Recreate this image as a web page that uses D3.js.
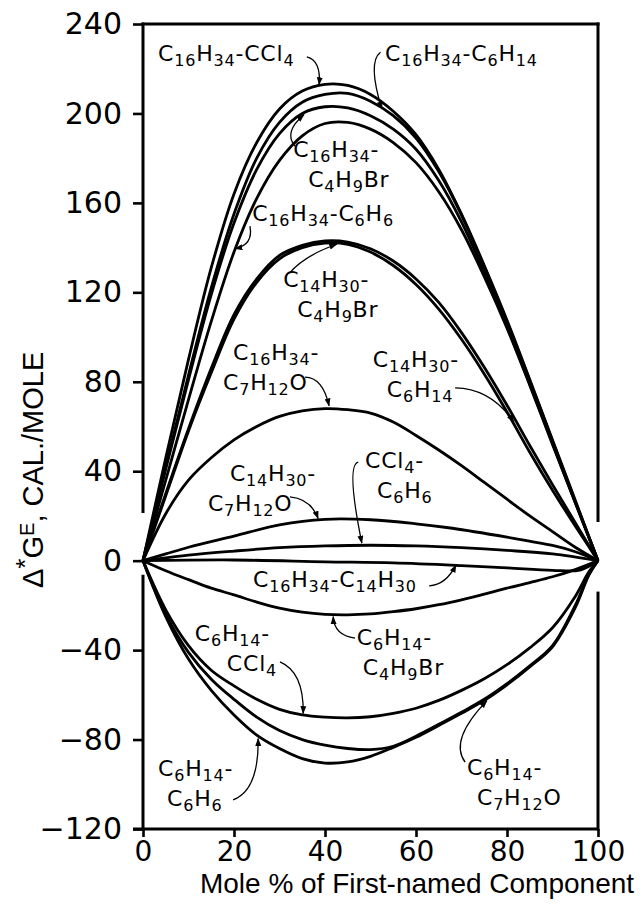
<!DOCTYPE html>
<html>
<head>
<meta charset="utf-8">
<script src="https://cdn.jsdelivr.net/npm/d3@7"></script>
<style>
  html, body { margin: 0; padding: 0; background: #fff; }
  svg { display: block; font-family: "DejaVu Sans", sans-serif; }
</style>
</head>
<body>
<div id="chart"></div>
<script>
// axis ticks
const xTicks = [0, 20, 40, 60, 80, 100];
const yTicks = [-120, -80, -40, 0, 40, 80, 120, 160, 200, 240];

// [mole % of first-named component, excess free energy cal/mole]
const hexadecaneCCl4 = [[0,0],[5,46],[10,90],[15,131],[20,164],[25,187],[30,202],[35,210],[40,213],[45,212.5],[50,208.5],[55,201],[60,190.5],[65,175],[70,155],[75,132],[80,107.5],[85,81],[90,54],[95,27],[100,0]];
const hexadecaneHexane = [[0,0],[5,42],[10,83],[15,122],[20,155],[25,180],[30,196],[35,205],[40,208.5],[45,209],[50,205.5],[55,199],[60,189],[65,174],[70,154.5],[75,131.5],[80,107],[85,80.5],[90,53.5],[95,26.5],[100,0]];
const hexadecaneBromobutane = [[0,0],[5,41],[10,81],[15,119],[20,151],[25,175],[30,191],[35,200],[40,203],[45,202.5],[50,199],[55,193],[60,184],[65,170],[70,151.5],[75,129],[80,105],[85,79],[90,52.5],[95,26],[100,0]];
const hexadecaneBenzene = [[0,0],[5,36],[10,72],[15,107],[20,138],[25,162],[30,179],[35,190],[40,195.5],[45,196],[50,193],[55,187],[60,178],[65,165],[70,148],[75,127],[80,104],[85,78.5],[90,52],[95,26],[100,0]];
const tetradecaneBromobutane = [[0,0],[5,30],[10,59],[15,86],[20,110],[25,126],[30,136.5],[35,141],[40,143],[45,142.5],[50,139.5],[55,134],[60,126],[65,115.5],[70,102],[75,86.5],[80,69.5],[85,51.5],[90,34],[95,17],[100,0]];
const tetradecaneHexane = [[0,0],[5,29],[10,58],[15,84],[20,108],[25,124.5],[30,135],[35,140],[40,142],[45,141.5],[50,138],[55,132],[60,123.5],[65,112.5],[70,99],[75,83.5],[80,66.5],[85,48.5],[90,31.5],[95,15.5],[100,0]];
const hexadecaneC7H12O = [[0,0],[5,21],[10,36],[15,46],[20,54],[25,60],[30,64.5],[35,67],[40,68],[45,67.5],[50,66],[55,62],[60,56],[65,49.5],[70,42.5],[75,35],[80,27.5],[85,20],[90,13],[95,6],[100,0]];
const tetradecaneC7H12O = [[0,0],[5,3],[10,6],[20,11],[30,16],[40,18.5],[50,18.3],[60,16.5],[68,14.5],[80,10.5],[90,6.8],[95,4],[100,0]];
const ccl4Benzene = [[0,0],[10,2.5],[20,4.3],[30,5.8],[40,6.6],[50,6.9],[60,6.6],[70,5.8],[80,4.6],[90,3],[100,0]];
const hexadecaneTetradecane = [[0,0],[20,0.3],[40,-0.5],[55,-1],[70,-2.2],[80,-3.2],[90,-4.3],[96,-4.2],[100,0]];
const hexaneBromobutane = [[0,0],[5,-4.5],[10,-8.5],[15,-12.3],[20,-15.3],[25,-18.5],[30,-21.2],[35,-23],[40,-24],[45,-24.2],[50,-23.8],[55,-22.8],[60,-21.5],[65,-19.7],[70,-17.5],[75,-15],[80,-12.3],[85,-9.8],[90,-7.2],[95,-4],[100,0]];
const hexaneCCl4 = [[0,0],[5,-22],[10,-38],[15,-49],[20,-56],[25,-62],[30,-66.5],[35,-69],[40,-70],[45,-70.3],[50,-69.8],[55,-68.3],[60,-66],[65,-62.5],[70,-58],[75,-52.8],[80,-46.5],[85,-39],[90,-30],[95,-16],[98,-5],[100,0]];
const hexaneC7H12O = [[0,0],[5,-24],[10,-41],[15,-53],[20,-62],[25,-70],[30,-76],[35,-80],[40,-82.5],[45,-84],[50,-84.5],[55,-83],[60,-78.5],[65,-73.2],[70,-67.8],[75,-62],[80,-55],[85,-47],[90,-38],[95,-20],[98,-6],[100,0]];
const hexaneBenzene = [[0,0],[5,-25],[10,-44],[15,-58],[20,-69],[25,-78],[30,-84],[35,-88.5],[40,-90.5],[45,-90],[50,-87.5],[55,-83.5],[60,-79],[65,-73.7],[70,-68.3],[75,-62.5],[80,-55.5],[85,-47.5],[90,-38.5],[95,-21],[98,-6.5],[100,0]];

const curves = [
  hexadecaneCCl4, hexadecaneHexane, hexadecaneBromobutane, hexadecaneBenzene,
  tetradecaneBromobutane, tetradecaneHexane, hexadecaneC7H12O, tetradecaneC7H12O,
  ccl4Benzene, hexadecaneTetradecane, hexaneBromobutane, hexaneCCl4,
  hexaneC7H12O, hexaneBenzene
];

// labels: text lines (digits are subscripts), anchor and arrow in data units
const labels = [
  { lines: ["C16H34-CCl4"], at: [3.3, 223.4], arrow: [[36.0, 225.3], [39.2, 223.6], [38.7, 212.8]] },
  { lines: ["C16H34-C6H14"], at: [53.2, 223.4], arrow: [[52.2, 227.4], [49.3, 223], [52.5, 202]] },
  { lines: ["C16H34-", "C4H9Br"], at: [33, 180.5], dx: [0, 15], arrow: [[33.4, 185.4], [30.8, 191.5], [35.4, 199.5]] },
  { lines: ["C16H34-C6H6"], at: [24, 151.9], arrow: [[23.5, 149.6], [24.3, 141.2], [20.2, 139.5]] },
  { lines: ["C14H30-", "C4H9Br"], at: [30.8, 122.4], dx: [0, 14], arrow: [[32.2, 128.6], [35.5, 136.5], [42.6, 141.5]] },
  { lines: ["C16H34-", "C7H12O"], at: [19.8, 89.8], dx: [0, -10], arrow: [[35.6, 82.1], [39.5, 82], [40.9, 69.2]] },
  { lines: ["C14H30-", "C6H14"], at: [50.5, 86.6], dx: [0, 14], arrow: [[68.6, 77.3], [76.5, 77], [81.5, 62]] },
  { lines: ["C14H30-", "C7H12O"], at: [19.1, 35.6], dx: [0, -22], arrow: [[32.3, 28.5], [36.9, 27.6], [38.5, 18.8]] },
  { lines: ["CCl4-", "C6H6"], at: [48.8, 41.5], dx: [0, 12], arrow: [[47.3, 44.1], [44.6, 42.8], [48.1, 7.8]] },
  { lines: ["C16H34-C14H30"], at: [24.2, -11.8], arrow: [[62.9, -11.3], [66.6, -10.8], [68.8, -1.9]] },
  { lines: ["C6H14-", "C4H9Br"], at: [47, -37.7], dx: [0, 6], arrow: [[46.6, -34.6], [42, -33.5], [41.8, -25]] },
  { lines: ["C6H14-", "CCl4"], at: [11.4, -35.9], dx: [0, 32], arrow: [[30.1, -45.3], [35.4, -49.8], [35.2, -68.4]] },
  { lines: ["C6H14-", "C6H6"], at: [3.3, -96.3], dx: [0, 9], arrow: [[19.8, -107], [25.5, -102.6], [25.3, -79.5]] },
  { lines: ["C6H14-", "C7H12O"], at: [71.2, -95.9], dx: [0, 10], arrow: [[70.8, -90.1], [67.2, -80.3], [75.6, -62.6]] }
];

const width = 640;
const height = 917;

const x = d3.scaleLinear().domain([0, 100]).range([143, 598]);
const y = d3.scaleLinear().domain([-120, 240]).range([829, 24]);

const svg = d3
  .select("#chart")
  .append("svg")
  .attr("width", width)
  .attr("height", height);

svg
  .append("defs")
  .append("marker")
  .attr("id", "tip")
  .attr("viewBox", "0 0 8 6")
  .attr("refX", 7.5)
  .attr("refY", 3)
  .attr("markerWidth", 8)
  .attr("markerHeight", 6)
  .attr("markerUnits", "userSpaceOnUse")
  .attr("orient", "auto")
  .append("path")
  .attr("d", "M0,0 L8,3 L0,6 Z")
  .attr("fill", "#000");

// frame: the left and right edges are broken where the curves meet
const frame = svg.append("g").attr("stroke", "#000").attr("stroke-width", 3).attr("fill", "none");
const frameSegs = [
  [[0, 240], [0, 22]],
  [[0, -7], [0, -120]],
  [[100, 240], [100, 18]],
  [[100, -14.5], [100, -120]],
  [[0, 240], [100, 240]]
];
frameSegs.forEach(([a, b]) => {
  frame
    .append("line")
    .attr("x1", x(a[0]))
    .attr("y1", y(a[1]))
    .attr("x2", x(b[0]))
    .attr("y2", y(b[1]))
    .attr("stroke-linecap", "square");
});

const yAxis = svg
  .append("g")
  .attr("transform", `translate(${x(0)}, 0)`)
  .call(d3.axisLeft(y).tickValues(yTicks).tickSize(10).tickPadding(11));
yAxis.select(".domain").remove();
yAxis.selectAll(".tick text").attr("font-size", 30);

const xAxis = svg
  .append("g")
  .attr("transform", `translate(0, ${y(-120)})`)
  .call(d3.axisBottom(x).tickValues(xTicks).tickSize(8).tickPadding(4));
xAxis.select(".domain").attr("stroke-width", 3).attr("d", `M${x(0) - 10},0H${x(100)}`);
xAxis.selectAll(".tick text").attr("font-size", 28);

svg.selectAll(".tick line").attr("stroke-width", 2.6);
svg
  .selectAll(".tick text")
  .attr("font-family", "DejaVu Sans")
  .attr("fill", "#000");

// curves
const line = d3
  .line()
  .x((d) => x(d[0]))
  .y((d) => y(d[1]))
  .curve(d3.curveCatmullRom.alpha(0.5));

svg
  .append("g")
  .selectAll("path")
  .data(curves)
  .enter()
  .append("path")
  .attr("d", line)
  .attr("fill", "none")
  .attr("stroke", "#000")
  .attr("stroke-width", 2.8)
  .attr("stroke-linejoin", "round");

// chemical formula text, digits as subscripts; one <text> per label
const subShift = 5;
const lineGap = 30;

function chemLabel(textSel, lines, baseX, dxs) {
  let shift = 0;
  lines.forEach((str, i) => {
    str.match(/\d+|\D+/g).forEach((part, j) => {
      const isNum = /^\d+$/.test(part);
      const target = isNum ? subShift : 0;
      const t = textSel.append("tspan").text(part).attr("font-size", isNum ? 16 : 22);
      let dy = target - shift;
      if (i > 0 && j === 0) {
        t.attr("x", baseX + (dxs ? dxs[i] : 0));
        dy += lineGap;
      }
      if (dy !== 0) t.attr("dy", dy);
      shift = target;
    });
  });
}

const ann = svg.append("g");
labels.forEach((lab) => {
  const t = ann
    .append("text")
    .attr("x", x(lab.at[0]))
    .attr("y", y(lab.at[1]))
    .attr("letter-spacing", 0.8)
    .attr("fill", "#000");
  chemLabel(t, lab.lines, x(lab.at[0]), lab.dx);

  const [p0, p1, p2] = lab.arrow;
  ann
    .append("path")
    .attr(
      "d",
      `M${x(p0[0])},${y(p0[1])} Q${x(p1[0])},${y(p1[1])} ${x(p2[0])},${y(p2[1])}`
    )
    .attr("fill", "none")
    .attr("stroke", "#000")
    .attr("stroke-width", 1.3)
    .attr("marker-end", "url(#tip)");
});

// axis titles
svg
  .append("text")
  .attr("x", 417)
  .attr("y", 893)
  .attr("text-anchor", "middle")
  .attr("font-family", "Liberation Sans")
  .attr("font-size", 28)
  .attr("fill", "#000")
  .text("Mole % of First-named Component");

const yTitle = svg
  .append("text")
  .attr("transform", "translate(43, 588) rotate(-90)")
  .attr("font-family", "Liberation Sans")
  .attr("font-size", 29)
  .attr("fill", "#000");
yTitle.append("tspan").text("\u0394");
yTitle.append("tspan").attr("dy", -9).attr("font-size", 26).text("*");
yTitle.append("tspan").attr("dy", 9).text("G");
yTitle.append("tspan").attr("dy", -9).attr("font-size", 20).text("E");
yTitle.append("tspan").attr("dy", 9).text(",  CAL./MOLE");
</script>
</body>
</html>
